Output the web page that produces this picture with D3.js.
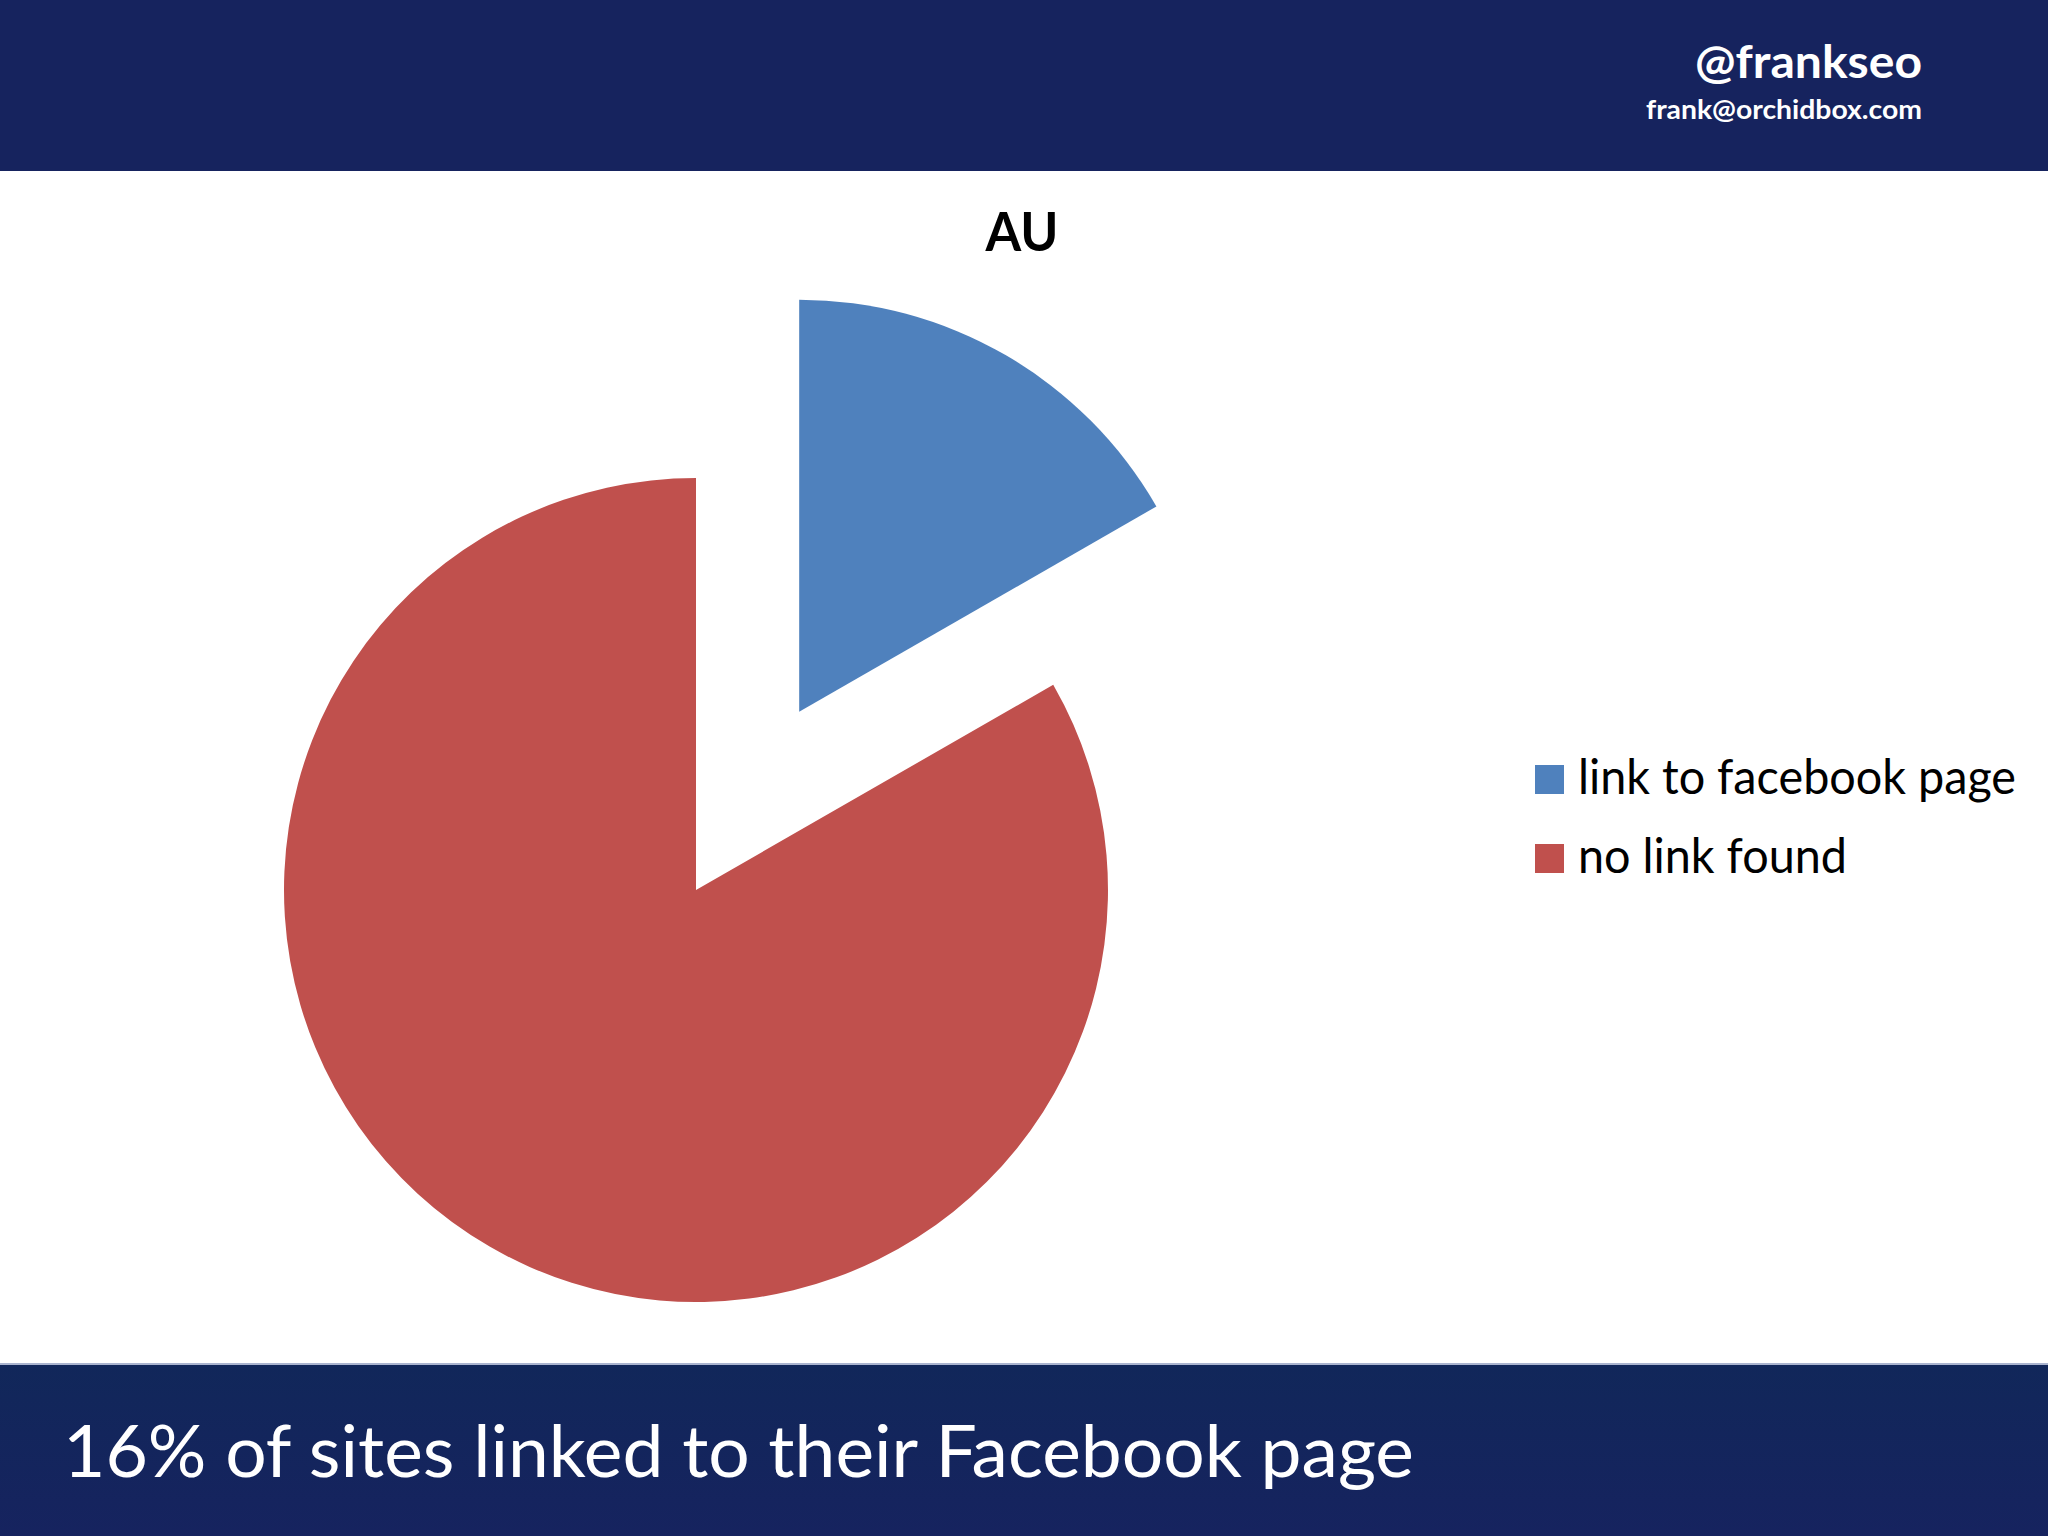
<!DOCTYPE html>
<html>
<head>
<meta charset="utf-8">
<script src="https://cdn.jsdelivr.net/npm/d3@7"></script>
<style>
  html, body { margin: 0; padding: 0; background: #ffffff; }
  svg { display: block; }
</style>
</head>
<body>
<svg id="chart" width="2048" height="1536"></svg>
<script>
// ---- data ----
const categories = ["link to facebook page", "no link found"];
const values = [16.7, 83.3];
const chartTitle = "AU";
const handle = "@frankseo";
const email = "frank@orchidbox.com";
const caption = "16% of sites linked to their Facebook page";

// ---- styles ----
const sliceColors = ["#4F81BD", "#C0504D"];
const bannerTop = "#16235e";
const font = "Lato, 'Open Sans', sans-serif";

const svg = d3.select("#chart");

// banners
svg.append("rect").attr("x", 0).attr("y", 0).attr("width", 2048).attr("height", 171).attr("fill", bannerTop);
svg.append("rect").attr("x", 0).attr("y", 1363).attr("width", 2048).attr("height", 2).attr("fill", "#aab4cf");
const grad = svg.append("defs").append("linearGradient").attr("id", "bg").attr("x1", 0).attr("y1", 0).attr("x2", 0).attr("y2", 1);
grad.append("stop").attr("offset", 0).attr("stop-color", "#11275a");
grad.append("stop").attr("offset", 1).attr("stop-color", "#16235f");
svg.append("rect").attr("x", 0).attr("y", 1365).attr("width", 2048).attr("height", 171).attr("fill", "url(#bg)");

// header texts
svg.append("text").attr("x", 1922).attr("y", 78).attr("text-anchor", "end")
  .attr("font-family", font).attr("font-weight", 700).attr("font-size", 45)
  .attr("fill", "#ffffff").attr("textLength", 227).attr("lengthAdjust", "spacingAndGlyphs").text(handle);
svg.append("text").attr("x", 1922).attr("y", 119).attr("text-anchor", "end")
  .attr("font-family", font).attr("font-weight", 700).attr("font-size", 27)
  .attr("fill", "#ffffff").attr("textLength", 276).attr("lengthAdjust", "spacingAndGlyphs").text(email);

// chart title
svg.append("text").attr("x", 1022).attr("y", 251).attr("text-anchor", "middle")
  .attr("font-family", font).attr("font-weight", 700).attr("font-size", 53)
  .attr("fill", "#000000").attr("textLength", 73).attr("lengthAdjust", "spacingAndGlyphs").text(chartTitle);

// pie
const cx = 696, cy = 890, radius = 412, explode = 206;
const pie = d3.pie().sort(null).startAngle(0).endAngle(2 * Math.PI)(values);
const arc = d3.arc().innerRadius(0).outerRadius(radius);
const g = svg.append("g").attr("transform", `translate(${cx},${cy})`);
g.selectAll("path").data(pie).join("path")
  .attr("d", arc)
  .attr("fill", (d, i) => sliceColors[i])
  .attr("transform", (d, i) => {
    if (i !== 0) return null;
    const a = (d.startAngle + d.endAngle) / 2;
    return `translate(${explode * Math.sin(a)},${-explode * Math.cos(a)})`;
  });

// legend
const legendWidths = [438, 269];
const leg = svg.append("g");
const items = leg.selectAll("g").data(categories).join("g")
  .attr("transform", (d, i) => `translate(1535,${765 + i * 79})`);
items.append("rect").attr("width", 29).attr("height", 29).attr("fill", (d, i) => sliceColors[i]);
items.append("text").attr("x", 43).attr("y", 29)
  .attr("font-family", font).attr("font-size", 48).attr("fill", "#000000")
  .attr("textLength", (d, i) => legendWidths[i]).attr("lengthAdjust", "spacingAndGlyphs")
  .text(d => d);

// caption
svg.append("text").attr("x", 63).attr("y", 1477)
  .attr("font-family", font).attr("font-size", 71).attr("fill", "#ffffff")
  .attr("textLength", 1351).attr("lengthAdjust", "spacingAndGlyphs").text(caption);
</script>
</body>
</html>
